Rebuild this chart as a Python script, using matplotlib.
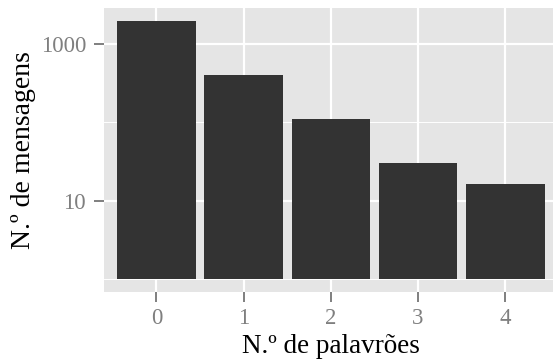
import matplotlib
matplotlib.use("Agg")
import matplotlib.pyplot as plt
from matplotlib.ticker import FixedLocator, NullFormatter
import numpy as np

# Number of swear words per message and how many messages have each count
palavroes = ["0", "1", "2", "3", "4"]
mensagens = [1950, 400, 110, 30, 16]
y_ticks = [10, 1000]
y_tick_labels = ["10", "1000"]
y_minor = [1, 100, 10000]

plt.rcParams["font.family"] = ["Liberation Serif", "DejaVu Serif"]

W, H = 553, 361
fig = plt.figure(figsize=(W / 100, H / 100), dpi=100)
left, right, top, bottom = 104, 557.6, 8, 291.7
ax = fig.add_axes([left / W, (H - bottom) / H, (right - left) / W, (bottom - top) / H])

ax.set_facecolor("#E5E5E5")
ax.set_yscale("log")
ax.set_ylim(10 ** -0.163, 10 ** 3.455)
ax.set_xlim(-0.6, 4.6)

x = np.arange(len(palavroes))
base = 1
ax.bar(x, np.array(mensagens) - base, bottom=base, width=0.9,
       color="#333333", zorder=3)

ax.yaxis.set_major_locator(FixedLocator(y_ticks))
ax.set_yticklabels(y_tick_labels)
ax.yaxis.set_minor_locator(FixedLocator(y_minor))
ax.yaxis.set_minor_formatter(NullFormatter())
ax.set_xticks(x)
ax.set_xticklabels(palavroes)

ax.grid(which="major", color="white", linewidth=1.6, zorder=1)
ax.grid(which="minor", axis="y", color="white", linewidth=0.7, zorder=1)
ax.set_axisbelow(True)

for s in ax.spines.values():
    s.set_visible(False)

ax.tick_params(which="major", length=7, width=1.4, color="#7F7F7F",
               labelcolor="#7F7F7F", labelsize=16.5)
ax.tick_params(axis="x", which="major", pad=5)
ax.tick_params(axis="y", which="major", pad=6)
ax.tick_params(which="minor", length=0)

ax.set_xlabel("N.º de palavrões", fontsize=19.5, labelpad=3)
ax.set_ylabel("N.º de mensagens", fontsize=20, labelpad=3)

fig.savefig("out.png", dpi=100)
